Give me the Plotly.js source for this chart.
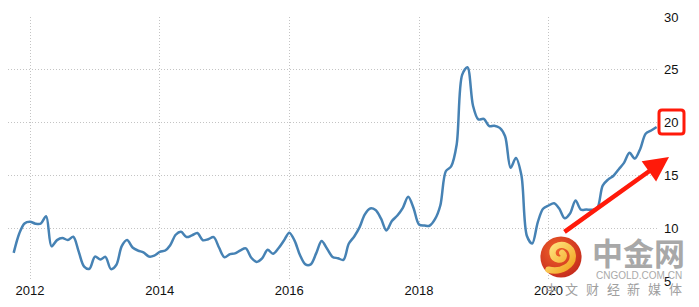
<!DOCTYPE html>
<html>
<head>
<meta charset="utf-8">
<script src="https://cdn.plot.ly/plotly-3.0.1.min.js"></script>
<style>
html,body{margin:0;padding:0;background:#fff;}
#chart{width:699px;height:307px;}
</style>
</head>
<body>
<div id="chart"></div>
<script>
// Monthly values, Oct 2011 .. Sep 2021
const startYear = 2011, startMonth = 10;
const values = [
  7.66, 9.48, 10.45,
  10.61, 10.43, 10.43, 11.14, 8.28, 8.87, 9.07, 8.88, 9.19, 7.80, 6.37, 6.16,
  7.31, 7.03, 7.29, 6.13, 6.51, 8.30, 8.88, 8.17, 7.88, 7.71, 7.32, 7.40,
  7.75, 7.89, 8.39, 9.38, 9.66, 9.16, 9.32, 9.54, 8.86, 8.96, 9.15, 8.17,
  7.24, 7.55, 7.61, 7.91, 8.09, 7.20, 6.81, 7.14, 7.95, 7.58, 8.10, 8.81,
  9.58, 8.78, 7.46, 6.57, 6.58, 7.64, 8.79, 8.05, 7.28, 7.16, 7.00, 8.53,
  9.22, 10.13, 11.29, 11.87, 11.72, 10.90, 9.79, 10.68, 11.20, 11.90, 12.98, 11.92,
  10.35, 10.26, 10.23, 10.85, 12.15, 15.39, 15.85, 17.90, 24.52, 25.24, 21.62, 20.30,
  20.35, 19.67, 19.71, 19.50, 18.71, 15.72, 16.65, 15.01, 9.26, 8.55, 10.56, 11.84,
  12.15, 12.37, 11.86, 10.94, 11.39, 12.62, 11.76, 11.77, 11.75, 11.89, 14.03, 14.60,
  14.97, 15.61, 16.19, 17.14, 16.59, 17.53, 18.95, 19.25, 19.58
];
const dates = values.map((v, i) => {
  const m0 = startMonth - 1 + i;
  const y = startYear + Math.floor(m0 / 12);
  const m = (m0 % 12) + 1;
  return y + '-' + String(m).padStart(2, '0') + '-01';
});
const yTicks = [5, 10, 15, 20, 25, 30];
const xTickYears = ['2012', '2014', '2016', '2018', '2020'];
const footerChars = ['中', '文', '财', '经', '新', '媒', '体'];

// plot box in pixels (for placing decorations)
const L = 8, R = 657, T = 17, B = 281;
const px = x => (x - L) / (R - L);
const py = y => (B - y) / (B - T);

const logoSvg = '<svg xmlns="http://www.w3.org/2000/svg" viewBox="0 0 100 100">' +
  '<defs><radialGradient id="g" cx="40%" cy="35%" r="70%"><stop offset="0" stop-color="#f2622a"/><stop offset="1" stop-color="#c42a1c"/></radialGradient>' +
  '<linearGradient id="y" x1="0" y1="0" x2="1" y2="1"><stop offset="0" stop-color="#ffe682"/><stop offset="1" stop-color="#f2a21e"/></linearGradient></defs>' +
  '<circle cx="50" cy="50" r="49" fill="url(#g)"/>' +
  '<path d="M20,80 C50,88 80,70 78,46 C76,24 54,16 38,25 C25,33 28,54 44,56 C56,57 60,46 53,40" fill="none" stroke="url(#y)" stroke-width="15" stroke-linecap="round"/>' +
  '</svg>';
const logoUri = 'data:image/svg+xml;base64,' + btoa(logoSvg);

const annotations = [
  {xref: 'paper', yref: 'paper', x: px(638), y: py(251), text: '中金网', showarrow: false,
   font: {family: 'Noto Sans CJK SC', size: 31, color: '#a8a8a8', weight: 'bold'}, xanchor: 'center', yanchor: 'middle'},
  {xref: 'paper', yref: 'paper', x: px(639), y: py(275), text: 'CNGOLD.COM.CN', showarrow: false,
   font: {family: 'Liberation Sans', size: 10, color: '#aaaaaa'}, xanchor: 'center', yanchor: 'middle'},
  {xref: 'paper', yref: 'paper', x: px(669), y: py(157), ax: -106, ay: 76, text: '', showarrow: true,
   arrowcolor: '#ff1a0a', arrowwidth: 4.5, arrowhead: 2, arrowsize: 1.1, standoff: 0}
];
footerChars.forEach((c, i) => {
  annotations.push({xref: 'paper', yref: 'paper', x: px(551 + i * 20.7), y: py(288), text: c, showarrow: false,
    font: {family: 'Noto Sans CJK SC', size: 13, color: '#a0a0a0'}, xanchor: 'center', yanchor: 'middle'});
});

// rounded rectangle path around the "20" label
function roundRect(x0, y0, x1, y1, r) {
  const X = v => px(v), Y = v => py(v);
  return 'M' + X(x0 + r) + ',' + Y(y0) + ' L' + X(x1 - r) + ',' + Y(y0) +
    ' Q' + X(x1) + ',' + Y(y0) + ' ' + X(x1) + ',' + Y(y0 + r) +
    ' L' + X(x1) + ',' + Y(y1 - r) + ' Q' + X(x1) + ',' + Y(y1) + ' ' + X(x1 - r) + ',' + Y(y1) +
    ' L' + X(x0 + r) + ',' + Y(y1) + ' Q' + X(x0) + ',' + Y(y1) + ' ' + X(x0) + ',' + Y(y1 - r) +
    ' L' + X(x0) + ',' + Y(y0 + r) + ' Q' + X(x0) + ',' + Y(y0) + ' ' + X(x0 + r) + ',' + Y(y0) + ' Z';
}

const trace = {
  x: dates, y: values, type: 'scatter', mode: 'lines',
  line: {color: '#4682b4', width: 2.5, shape: 'spline', smoothing: 0.9},
  hoverinfo: 'skip'
};

const layout = {
  width: 699, height: 307,
  margin: {l: L, r: 699 - R, t: T, b: 307 - B, pad: 0},
  paper_bgcolor: '#ffffff', plot_bgcolor: '#ffffff',
  showlegend: false,
  font: {family: 'Liberation Sans, Arial', color: '#111111'},
  xaxis: {
    type: 'date', range: ['2011-08-30', '2021-09-03'],
    tickvals: xTickYears.map(y => y + '-01-01'), ticktext: xTickYears,
    showgrid: true, gridcolor: '#c4c4c4', griddash: '1px,2px', gridwidth: 1,
    zeroline: false, showline: false, ticks: '',
    tickfont: {size: 13, color: '#111111'}
  },
  yaxis: {
    range: [5, 30], side: 'right', tickvals: yTicks, ticktext: yTicks.map(String),
    showgrid: true, gridcolor: '#c4c4c4', griddash: '1px,2px', gridwidth: 1,
    zeroline: false, showline: false, ticks: '', ticklabelstandoff: 6,
    tickfont: {size: 13, color: '#111111'}
  },
  shapes: [
    {type: 'path', xref: 'paper', yref: 'paper', path: roundRect(659, 110, 684, 134, 3),
     line: {color: '#ff1a0a', width: 3}, fillcolor: 'rgba(0,0,0,0)'}
  ],
  images: [
    {source: logoUri, xref: 'paper', yref: 'paper', x: px(540), y: py(236), sizex: px(582) - px(540), sizey: py(236) - py(278),
     xanchor: 'left', yanchor: 'top', sizing: 'stretch', layer: 'above'}
  ],
  annotations: annotations
};

Plotly.newPlot('chart', [trace], layout, {displayModeBar: false, staticPlot: true});
</script>
</body>
</html>
